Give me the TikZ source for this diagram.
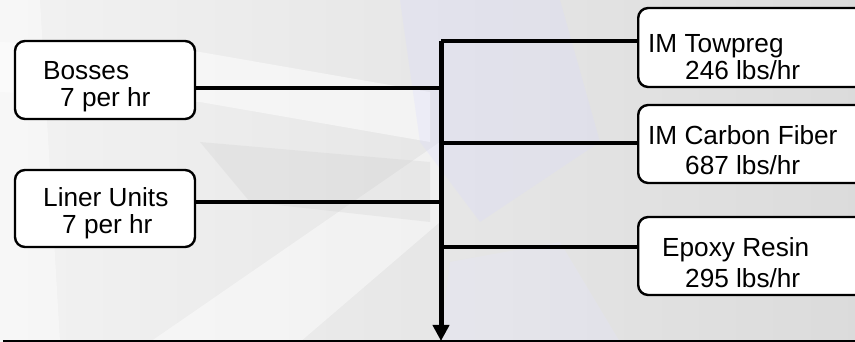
\documentclass[tikz,border=0pt]{standalone}
\usepackage{fontspec}
\setmainfont{Liberation Sans}
\usetikzlibrary{arrows.meta}
\begin{document}
\begin{tikzpicture}[x=1pt,y=1pt,
  box/.style={draw=black,line width=2.4pt,fill=white,rounded corners=10pt,inner sep=0pt},
  lbl/.style={anchor=base west,inner sep=0pt,font=\fontsize{26.2}{30}\selectfont},
  link/.style={draw=black,line width=4.6pt},
  trunk/.style={draw=black,line width=5pt}]
\useasboundingbox (0,0) rectangle (855,342);
\begin{scope}
\clip (0,0) rectangle (855,342);
% background
\shade[left color=gray!10,right color=gray!28] (0,0) rectangle (855,342);
\fill[white,opacity=0.5] (0,300) -- (200,290) -- (430,250) -- (430,200) -- (200,240) -- (0,250) -- cycle;
\fill[white,opacity=0.45] (150,0) -- (300,0) -- (440,120) -- (440,200) -- cycle;
\fill[blue!15!white,opacity=0.25] (400,342) -- (560,342) -- (600,200) -- (480,120) -- (420,200) -- cycle;
\fill[blue!10!white,opacity=0.25] (440,0) -- (620,0) -- (560,100) -- (450,80) -- cycle;
\fill[gray!40,opacity=0.25] (200,200) -- (430,180) -- (430,120) -- (250,140) -- cycle;
\fill[white,opacity=0.4] (0,0) -- (60,0) -- (40,342) -- (0,342) -- cycle;

% boxes
\node[box,minimum width=180pt,minimum height=78pt] (bos) at (105,262) {};
\node[box,minimum width=180pt,minimum height=77pt] (lin) at (105,133.5) {};
\node[box,minimum width=240pt,minimum height=79pt,anchor=west] (tow) at (637,294.5) {};
\node[box,minimum width=240pt,minimum height=78pt,anchor=west] (car) at (637,198) {};
\node[box,minimum width=240pt,minimum height=78pt,anchor=west] (epo) at (637,86) {};

% texts
\node[lbl] (t1) at (43,262) {Bosses};
\node[lbl] (t2) at (60,235) {7 per hr};
\node[lbl] (t3) at (43,135) {Liner Units};
\node[lbl] (t4) at (62,108) {7 per hr};
\node[lbl] (t5) at (648,289) {IM Towpreg};
\node[lbl] (t6) at (685,262) {246 lbs/hr};
\node[lbl] (t7) at (648,197) {IM Carbon Fiber};
\node[lbl] (t8) at (685,167) {687 lbs/hr};
\node[lbl] (t9) at (662,85) {Epoxy Resin};
\node[lbl] (t10) at (685,54) {295 lbs/hr};

% connectors
\coordinate (top) at (441,301);
\coordinate (bot) at (441,1);
\coordinate (jb) at (441,254);
\coordinate (jl) at (441,140);
\coordinate (jc) at (441,199);
\coordinate (je) at (441,95);
\coordinate (bl) at (3,1);
\coordinate (br) at (855,1);
\draw[link] (bos.east |- jb) -- (jb);
\draw[link] (lin.east |- jl) -- (jl);
\draw[link] (top) -- (tow.west |- top);
\draw[link] (jc) -- (car.west |- jc);
\draw[link] (je) -- (epo.west |- je);
\draw[trunk,-{Triangle[length=16pt,width=16pt]}] (top) -- (bot);
\draw[line width=2.5pt] (bl) -- (br);
\end{scope}
\end{tikzpicture}
\end{document}
